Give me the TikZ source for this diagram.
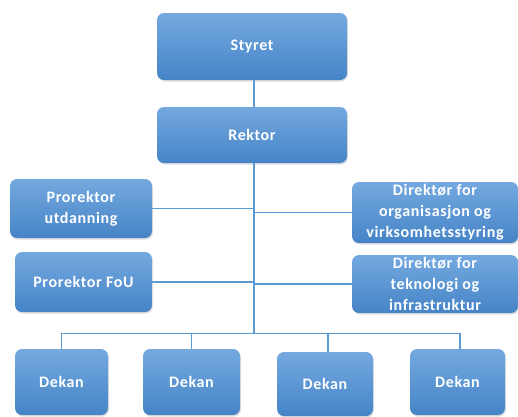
\documentclass[tikz,border=0pt]{standalone}
\usepackage{fontspec}
\setmainfont[LetterSpace=4]{Carlito}
\usepackage{tikz}
\usetikzlibrary{shadows}
\definecolor{boxtop}{HTML}{74A9DF}
\definecolor{boxbot}{HTML}{4684C7}
\definecolor{linkblue}{HTML}{5B9BD5}

\begin{document}
\begin{tikzpicture}[
    x=1pt, y=-1pt,
    unit/.style={
        rounded corners=7pt,
        top color=boxtop,
        bottom color=boxbot,
        text=white,
        font=\fontsize{16}{21}\selectfont\bfseries,
        align=center,
        inner sep=0pt,
        anchor=center,
        drop shadow={opacity=0.25, shadow xshift=1pt, shadow yshift=-1.5pt}
    },
    link/.style={draw=linkblue, line width=1.8pt}
]
    \useasboundingbox (0,0) rectangle (518,416);
\node[unit, minimum width=190, minimum height=67] (styret) at (252,46.5) {Styret};
\node[unit, minimum width=190, minimum height=56] (rektor) at (252,135) {Rektor};
\node[unit, minimum width=142, minimum height=59] (prutd) at (81,208.5) {Prorektor\\utdanning};
\node[unit, minimum width=137, minimum height=60] (prfou) at (83.5,282) {Prorektor FoU};
\node[unit, minimum width=166, minimum height=61] (dirorg) at (435,212.5) {Direkt\o r for\\organisasjon og\\virksomhetsstyring};
\node[unit, minimum width=166, minimum height=58] (dirtek) at (435,284) {Direkt\o r for\\teknologi og\\infrastruktur};
\node[unit, minimum width=93, minimum height=66] (dekana) at (61.5,382) {Dekan};
\node[unit, minimum width=97, minimum height=66] (dekanb) at (191.5,382) {Dekan};
\node[unit, minimum width=96, minimum height=64] (dekanc) at (325,384) {Dekan};
\node[unit, minimum width=95, minimum height=66] (dekand) at (457.5,382) {Dekan};
    \coordinate (hub) at (254,333.5);
    \draw[link] (styret.south -| hub) -- (rektor.north -| hub);
    \draw[link] (rektor.south -| hub) -- (hub);
    \draw[link] (prutd.east) -- (prutd.east -| hub);
    \draw[link] (prfou.east) -- (prfou.east -| hub);
    \draw[link] (dirorg.west) -- (dirorg.west -| hub);
    \draw[link] (dirtek.west) -- (dirtek.west -| hub);
    \draw[link] (hub) -| (dekana.north);
    \draw[link] (hub) -| (dekanb.north);
    \draw[link] (hub) -| ([xshift=3pt]dekanc.north);
    \draw[link] (hub) -| ([xshift=2.5pt]dekand.north);
\end{tikzpicture}
\end{document}
